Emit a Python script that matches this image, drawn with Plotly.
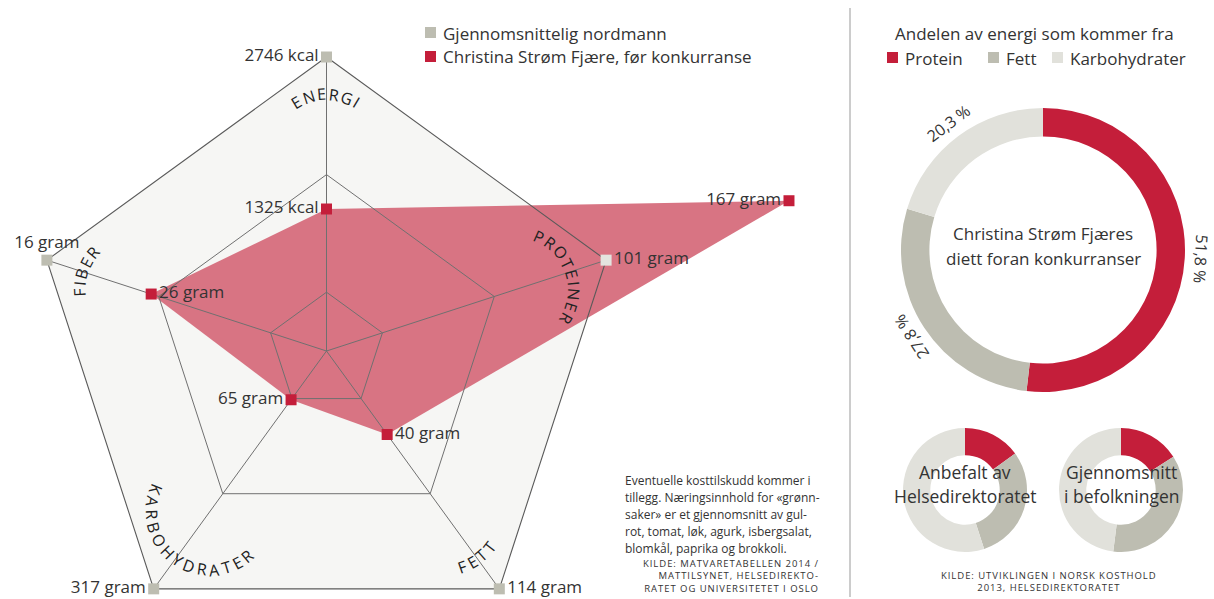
import numpy as np
import plotly.graph_objects as go

# ---------------- data ----------------
categories = ["ENERGI", "PROTEINER", "FETT", "KARBOHYDRATER", "FIBER"]
avg_labels = ["2746 kcal", "101 gram", "114 gram", "317 gram", "16 gram"]
christina_labels = ["1325 kcal", "167 gram", "40 gram", "65 gram", "26 gram"]
avg_r = [1.0, 1.0, 1.0, 1.0, 1.0]                       # share of average value
christina_r = [0.483, 1.654, 0.351, 0.205, 0.627]       # as drawn in the picture
grid_levels = [0.2, 0.6]

donut_parts = ["Protein", "Fett", "Karbohydrater"]
christina_share = [51.8, 27.8, 20.3]
recommended_share = [15, 30, 55]
population_share = [16, 36, 48]

series_names = ["Gjennomsnittelig nordmann", "Christina Strøm Fjære, før konkurranse"]

# ---------------- styling / layout constants ----------------
W, H = 1214, 599
CX, CY, R = 326.5, 351, 294
FONT = "Open Sans"
RED = "#c41e3a"
FILL_RED = "#d87483"
GRAY = "#bdbdb1"
LIGHT = "#e1e1db"
BG = "#f6f6f4"
TXT = "#333333"
part_colors = [RED, GRAY, LIGHT]
HAIR = "\u200a"

n = len(categories)
phi = np.deg2rad(np.arange(n) * 360.0 / n)   # clockwise from top


def xy(r):
    r = np.asarray(r, dtype=float)
    return r * np.sin(phi), r * np.cos(phi)


def closed(a):
    return list(a) + [a[0]]


fig = go.Figure()

# background pentagon
bx, by = xy(avg_r)
fig.add_trace(go.Scatter(x=closed(bx), y=closed(by), mode="lines", fill="toself",
                         fillcolor=BG, line=dict(width=0), hoverinfo="skip", showlegend=False))
# Christina area
cx_, cy_ = xy(christina_r)
fig.add_trace(go.Scatter(x=closed(cx_), y=closed(cy_), mode="lines", fill="toself",
                         fillcolor=FILL_RED, line=dict(width=0), hoverinfo="skip", showlegend=False))
# grid rings
for lv in grid_levels:
    gx, gy = xy([lv] * n)
    fig.add_trace(go.Scatter(x=closed(gx), y=closed(gy), mode="lines",
                             line=dict(color="#707070", width=1), hoverinfo="skip", showlegend=False))
# spokes
sx, sy = [], []
for i in range(n):
    sx += [0, np.sin(phi[i]) * avg_r[i], None]
    sy += [0, np.cos(phi[i]) * avg_r[i], None]
fig.add_trace(go.Scatter(x=sx, y=sy, mode="lines", line=dict(color="#707070", width=1),
                         hoverinfo="skip", showlegend=False))
# outer pentagon outline
fig.add_trace(go.Scatter(x=closed(bx), y=closed(by), mode="lines",
                         line=dict(color="#5a5a5a", width=1.1), hoverinfo="skip", showlegend=False))

# average markers + labels
avg_colors = [GRAY, "#e4e4df", GRAY, GRAY, GRAY]
fig.add_trace(go.Scatter(
    x=bx, y=by, mode="markers+text", text=avg_labels,
    textposition=["middle left", "middle right", "middle right", "middle left", "top center"],
    textfont=dict(family=FONT, size=17, color=TXT),
    marker=dict(symbol="square", size=11, color=avg_colors, line=dict(width=0)),
    cliponaxis=False, hoverinfo="skip", showlegend=False))
# Christina markers + labels
fig.add_trace(go.Scatter(
    x=cx_, y=cy_, mode="markers+text", text=christina_labels,
    textposition=["middle left", "middle left", "middle right", "middle left", "middle right"],
    textfont=dict(family=FONT, size=17, color=TXT),
    marker=dict(symbol="square", size=11, color=RED, line=dict(width=0)),
    cliponaxis=False, hoverinfo="skip", showlegend=False))

annotations = []

# curved category labels (one annotation per letter)
letter_w = {"A": .63, "B": .65, "D": .73, "E": .56, "F": .52, "G": .71, "H": .75, "I": .28,
            "K": .62, "N": .76, "O": .78, "P": .60, "R": .62, "T": .56, "Y": .57}
LFS = 16
TRACK = 2.6
RC = 58.0      # px radius of label circle
DC = 0.676     # distance of label circle centre along spoke (radius units)


def wrap(a):
    return (a + 180) % 360 - 180


for i, word in enumerate(categories):
    ws = [letter_w.get(ch, .6) * LFS for ch in word]
    s = [0.0]
    for k in range(1, len(word)):
        s.append(s[-1] + (ws[k - 1] + ws[k]) / 2 + TRACK)
    tot = s[-1]
    ang = np.rad2deg(phi[i])
    bottom = 90 < ang < 270
    for k, ch in enumerate(word):
        off = np.rad2deg((s[k] - tot / 2) / RC)
        psi = ang - off if bottom else ang + off
        pr = np.deg2rad(psi)
        x = DC * np.sin(phi[i]) + (RC / R) * np.sin(pr)
        y = DC * np.cos(phi[i]) + (RC / R) * np.cos(pr)
        annotations.append(dict(x=x, y=y, xref="x", yref="y", text=ch, showarrow=False,
                                textangle=wrap(psi - 180 if bottom else psi),
                                xanchor="center", yanchor="middle",
                                font=dict(family=FONT, size=LFS, color="#222")))


def pxa(x, y, text, size, xanchor="left", color=TXT, angle=0, align="left"):
    annotations.append(dict(x=x / W, y=1 - y / H, xref="paper", yref="paper", text=text,
                            showarrow=False, xanchor=xanchor, yanchor="middle", textangle=angle,
                            align=align, font=dict(family=FONT, size=size, color=color)))


def spaced(s):
    return HAIR.join(list(s))


shapes = []


def square(x0, y0, size, color):
    shapes.append(dict(type="rect", xref="paper", yref="paper", x0=x0 / W, x1=(x0 + size) / W,
                       y0=1 - (y0 + size) / H, y1=1 - y0 / H, fillcolor=color, line=dict(width=0)))


# left legend
square(425, 27, 11, GRAY)
pxa(441, 33, series_names[0], 17)
square(425, 51, 11, RED)
pxa(441, 57, series_names[1], 17)

# right legend
pxa(1034, 33, "Andelen av energi som kommer fra", 17, xanchor="center")
leg_x = [887, 988, 1052]
for j, part in enumerate(donut_parts):
    square(leg_x[j], 52, 11, part_colors[j])
    pxa(leg_x[j] + 16, 58, part, 17)

# separator
shapes.append(dict(type="line", xref="paper", yref="paper", x0=850 / W, x1=850 / W,
                   y0=1 - 597 / H, y1=1 - 8 / H, line=dict(color="#999999", width=1)))

# donuts
donuts = [
    (christina_share, 1043, 250, 142, 0.80),
    (recommended_share, 965, 490, 62, 0.56),
    (population_share, 1121, 490, 62, 0.56),
]
for vals, dcx, dcy, dr, hole in donuts:
    fig.add_trace(go.Pie(values=vals, labels=donut_parts, sort=False, direction="clockwise",
                         rotation=0, hole=hole, textinfo="none", hoverinfo="skip",
                         marker=dict(colors=part_colors, line=dict(width=0)),
                         domain=dict(x=[(dcx - dr) / W, (dcx + dr) / W],
                                     y=[1 - (dcy + dr) / H, 1 - (dcy - dr) / H]),
                         showlegend=False))

# percentage labels around the big donut
cum = np.cumsum([0] + christina_share)
tot_share = sum(christina_share)
for j, v in enumerate(christina_share):
    mid = (cum[j] + v / 2) / tot_share * 360
    m = np.deg2rad(mid)
    lx = 1043 + 158 * np.sin(m)
    ly = 250 - 158 * np.cos(m)
    pxa(lx, ly, f"{v:.1f}".replace(".", ",") + " %", 16, xanchor="center", angle=wrap(mid))

pxa(1043, 233, "Christina Strøm Fjæres", 17, xanchor="center")
pxa(1043, 258, "diett foran konkurranser", 17, xanchor="center")
pxa(965, 472, "Anbefalt av", 17.5, xanchor="center")
pxa(965, 496, "Helsedirektoratet", 17.5, xanchor="center")
pxa(1121, 472, "Gjennomsnitt", 17.5, xanchor="center")
pxa(1121, 496, "i befolkningen", 17.5, xanchor="center")
pxa(1048, 581, spaced("KILDE: UTVIKLINGEN I NORSK KOSTHOLD") + "<br>" +
    spaced("2013, HELSEDIREKTORATET"), 9.5, xanchor="center", align="center")

# note
note = ["Eventuelle kosttilskudd kommer i",
        "tillegg. Næringsinnhold for «grønn-",
        "saker» er et gjennomsnitt av gul-",
        "rot, tomat, løk, agurk, isbergsalat,",
        "blomkål, paprika og brokkoli."]
for k, line in enumerate(note):
    pxa(623, 480 + k * 17.0, line, 12)
src = ["KILDE: MATVARETABELLEN 2014 /", "MATTILSYNET, HELSEDIREKTO-", "RATET OG UNIVERSITETET I OSLO"]
pxa(820, 576, "<br>".join(spaced(s) for s in src), 9.5, xanchor="right", align="right")

fig.update_layout(
    width=W, height=H, margin=dict(l=0, r=0, t=0, b=0),
    paper_bgcolor="white", plot_bgcolor="white",
    xaxis=dict(range=[-CX / R, (W - CX) / R], visible=False, fixedrange=True),
    yaxis=dict(range=[-(H - CY) / R, CY / R], visible=False, fixedrange=True),
    annotations=annotations, shapes=shapes, showlegend=False,
    font=dict(family=FONT, color=TXT),
)

fig.write_html("out.html")
